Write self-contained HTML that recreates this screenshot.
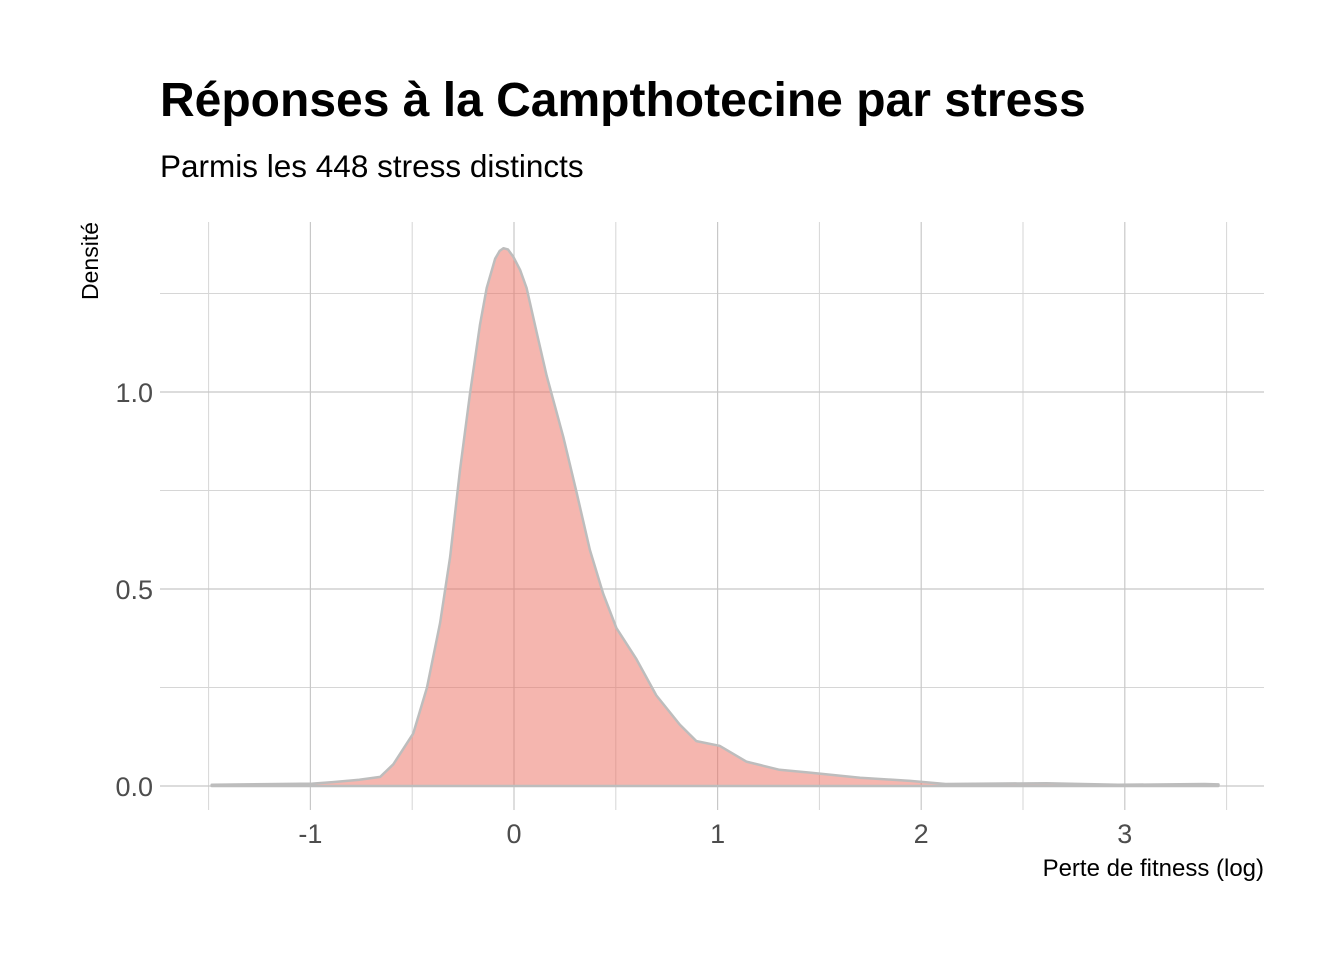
<!DOCTYPE html>
<html><head><meta charset="utf-8"><style>
body{margin:0;background:#fff;}
svg text{font-family:"Liberation Sans",sans-serif;}
</style></head><body>
<svg width="1344" height="960" xmlns="http://www.w3.org/2000/svg">
<text x="160" y="116" font-size="48" font-weight="bold" fill="#000">Réponses à la Campthotecine par stress</text>
<text x="160" y="177" font-size="31.5" fill="#000">Parmis les 448 stress distincts</text>
<g id="grid"></g>
<g id="marks"></g>
<g id="axes"></g>
<text x="1264" y="876" font-size="24" text-anchor="end" fill="#000">Perte de fitness (log)</text>
<text transform="translate(98,222) rotate(-90)" font-size="23" text-anchor="end" fill="#000">Densité</text>
</svg>
<script>
const xTicks=[-1,0,1,2,3];
const xMinor=[-1.5,-0.5,0.5,1.5,2.5,3.5];
const yTicks=[0,0.5,1.0];
const yTickLabels=["0.0","0.5","1.0"];
const yMinor=[0.25,0.75,1.25];
const densX=[-1.485,-0.99,-0.89,-0.76,-0.657,-0.593,-0.495,-0.428,-0.363,-0.314,-0.265,-0.216,-0.167,-0.134,-0.093,-0.07,-0.052,-0.03,-0.003,0.03,0.062,0.111,0.160,0.242,0.307,0.373,0.438,0.503,0.601,0.699,0.814,0.896,1.010,1.141,1.304,1.453,1.70,1.946,2.12,2.615,2.967,3.39,3.46];
const densY=[0.003,0.006,0.010,0.016,0.023,0.055,0.133,0.249,0.414,0.581,0.802,0.996,1.171,1.264,1.338,1.358,1.365,1.362,1.343,1.31,1.264,1.152,1.042,0.886,0.746,0.599,0.488,0.401,0.322,0.230,0.156,0.114,0.102,0.062,0.041,0.034,0.021,0.013,0.005,0.007,0.003,0.005,0.004];
const X=v=>514+v*203.6, Y=v=>786-v*394;
const NS="http://www.w3.org/2000/svg";
function mk(p,t,a){const e=document.createElementNS(NS,t);for(const k in a)e.setAttribute(k,a[k]);p.appendChild(e);return e;}
const grid=document.getElementById('grid');
xMinor.forEach(v=>{const l=mk(grid,'line',{x1:X(v),x2:X(v),y1:222,y2:810,stroke:'#d6d6d6','stroke-width':1});

});
yMinor.forEach(v=>{const l=mk(grid,'line',{x1:160,x2:1264,y1:Y(v),y2:Y(v),stroke:'#d6d6d6','stroke-width':1});

});
xTicks.forEach(v=>{const l=mk(grid,'line',{x1:X(v),x2:X(v),y1:222,y2:810,stroke:'#c8c8c8','stroke-width':1.2});

});
yTicks.forEach(v=>{const l=mk(grid,'line',{x1:160,x2:1264,y1:Y(v),y2:Y(v),stroke:'#c8c8c8','stroke-width':1.2});

});
const marks=document.getElementById('marks');
let d='M'+X(densX[0])+','+Y(0);
densX.forEach((x,i)=>{d+=' L'+X(x).toFixed(1)+','+Y(densY[i]).toFixed(1);});
d+=' L'+X(densX[densX.length-1])+','+Y(0)+' Z';
const p=mk(marks,'path',{d:d,fill:'rgba(235,110,95,0.5)',stroke:'#bdbdbd','stroke-width':2.5,'stroke-linejoin':'round'});


const axes=document.getElementById('axes');
xTicks.forEach(v=>{const t=mk(axes,'text',{x:X(v),y:843,'font-size':27,'text-anchor':'middle',fill:'#4d4d4d'});t.textContent=String(v);

});
yTicks.forEach((v,i)=>{const t=mk(axes,'text',{x:153,y:Y(v)+10,'font-size':27,'text-anchor':'end',fill:'#4d4d4d'});t.textContent=yTickLabels[i];

});
</script>
</body></html>
